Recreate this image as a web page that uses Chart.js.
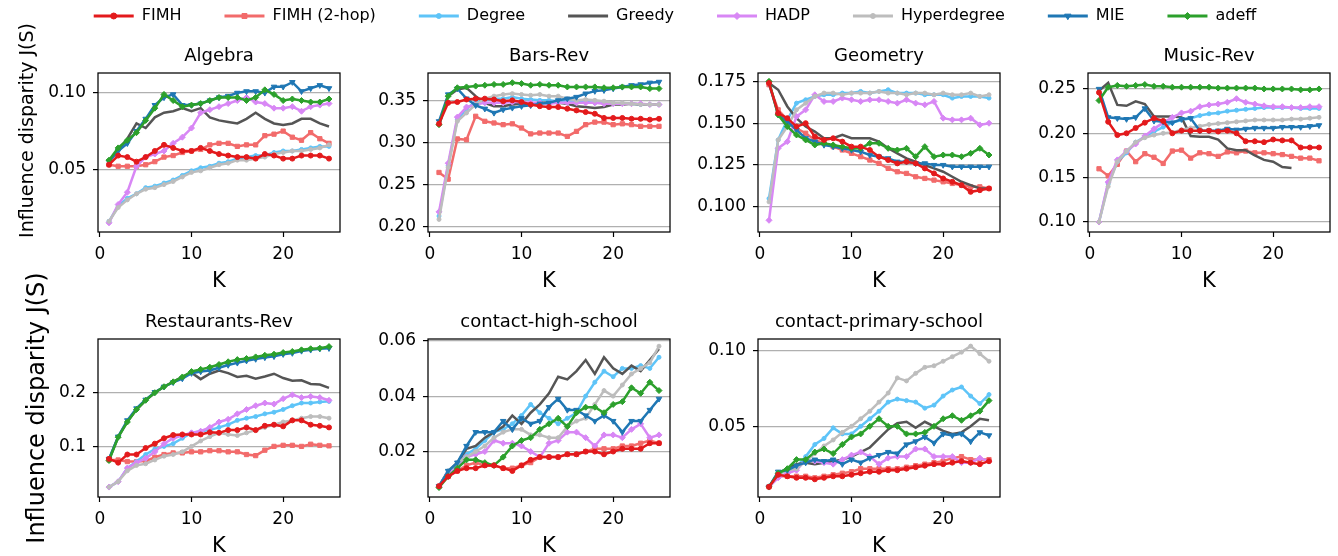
<!DOCTYPE html>
<html>
<head>
<meta charset="utf-8">
<script src="https://cdn.jsdelivr.net/npm/chart.js@4.4.1/dist/chart.umd.min.js"></script>
<style>
html, body { margin: 0; padding: 0; background: #fff; }
body { width: 1338px; height: 556px; position: relative; overflow: hidden; }
canvas { position: absolute; }
</style>
</head>
<body>
<canvas id="legend" width="1338" height="240"></canvas>
<script>
'use strict';

// ---- data ----
const K = [1,2,3,4,5,6,7,8,9,10,11,12,13,14,15,16,17,18,19,20,21,22,23,24,25];
const methods = ['FIMH', 'FIMH (2-hop)', 'Degree', 'Greedy', 'HADP', 'Hyperdegree', 'MIE', 'adeff'];
const titles = ['Algebra', 'Bars-Rev', 'Geometry', 'Music-Rev', 'Restaurants-Rev', 'contact-high-school', 'contact-primary-school'];
const xTicks = [0, 10, 20];
const yTickLabels = [
    ['0.05', '0.10'],
    ['0.20', '0.25', '0.30', '0.35'],
    ['0.100', '0.125', '0.150', '0.175'],
    ['0.10', '0.15', '0.20', '0.25'],
    ['0.1', '0.2'],
    ['0.02', '0.04', '0.06'],
    ['0.05', '0.10']
];
const yLimits = [
    [0.009, 0.113],
    [0.193, 0.3826],
    [0.085, 0.180],
    [0.0887, 0.268],
    [0.0067, 0.298],
    [0.0036, 0.0606],
    [0.0033, 0.1077]
];
const yLabel = 'Influence disparity J(S)';
const xLabel = 'K';

// series order follows `methods`
const algebra = [
    [0.053,0.059,0.058,0.055,0.058,0.062,0.066,0.064,0.062,0.062,0.064,0.062,0.060,0.059,0.058,0.058,0.057,0.060,0.059,0.057,0.057,0.059,0.059,0.059,0.057],
    [0.053,0.052,0.052,0.052,0.053,0.055,0.058,0.059,0.061,0.062,0.063,0.066,0.067,0.067,0.065,0.066,0.066,0.072,0.073,0.075,0.071,0.069,0.074,0.070,0.067],
    [0.016,0.026,0.031,0.034,0.038,0.039,0.041,0.043,0.046,0.049,0.051,0.052,0.054,0.055,0.057,0.058,0.059,0.059,0.061,0.062,0.062,0.063,0.064,0.065,0.065],
    [0.055,0.063,0.070,0.080,0.077,0.084,0.087,0.088,0.090,0.088,0.090,0.084,0.082,0.081,0.080,0.083,0.087,0.083,0.080,0.079,0.080,0.083,0.083,0.080,0.078],
    [0.015,0.027,0.035,0.052,0.058,0.060,0.062,0.067,0.071,0.077,0.087,0.089,0.091,0.093,0.095,0.097,0.094,0.093,0.090,0.090,0.091,0.088,0.091,0.092,0.093],
    [0.016,0.025,0.030,0.034,0.037,0.038,0.040,0.042,0.045,0.048,0.049,0.051,0.053,0.054,0.056,0.056,0.057,0.058,0.060,0.061,0.062,0.062,0.063,0.064,0.066],
    [0.055,0.062,0.067,0.075,0.083,0.092,0.097,0.099,0.092,0.092,0.093,0.095,0.097,0.098,0.100,0.101,0.101,0.100,0.104,0.104,0.107,0.101,0.103,0.105,0.103],
    [0.056,0.064,0.069,0.074,0.082,0.090,0.099,0.095,0.091,0.092,0.093,0.095,0.097,0.097,0.097,0.095,0.097,0.102,0.099,0.095,0.096,0.095,0.094,0.094,0.096]
];
const barsRev = [
    [0.322,0.347,0.348,0.351,0.352,0.352,0.351,0.349,0.350,0.348,0.345,0.343,0.342,0.342,0.340,0.338,0.336,0.334,0.329,0.329,0.329,0.328,0.328,0.327,0.328],
    [0.264,0.256,0.304,0.303,0.331,0.325,0.323,0.321,0.322,0.317,0.310,0.311,0.311,0.311,0.307,0.313,0.321,0.324,0.324,0.321,0.322,0.321,0.319,0.319,0.319],
    [0.212,0.272,0.327,0.340,0.348,0.350,0.352,0.352,0.354,0.352,0.351,0.350,0.350,0.349,0.349,0.348,0.348,0.347,0.347,0.346,0.346,0.346,0.345,0.345,0.345],
    [0.320,0.355,0.363,0.365,0.355,0.347,0.343,0.343,0.345,0.346,0.346,0.347,0.347,0.347,0.346,0.343,0.342,0.341,0.342,0.345,0.345,0.346,0.345,0.345,0.345],
    [0.217,0.275,0.330,0.342,0.345,0.347,0.347,0.347,0.348,0.348,0.347,0.347,0.346,0.347,0.347,0.347,0.347,0.347,0.346,0.346,0.346,0.346,0.346,0.345,0.345],
    [0.208,0.270,0.325,0.335,0.345,0.352,0.355,0.357,0.358,0.357,0.356,0.357,0.355,0.355,0.352,0.350,0.351,0.350,0.349,0.347,0.347,0.346,0.345,0.345,0.345],
    [0.325,0.357,0.364,0.352,0.344,0.340,0.335,0.339,0.341,0.343,0.344,0.346,0.347,0.350,0.352,0.354,0.358,0.361,0.362,0.364,0.366,0.368,0.369,0.371,0.372],
    [0.321,0.355,0.365,0.366,0.367,0.368,0.369,0.369,0.371,0.370,0.368,0.369,0.368,0.368,0.366,0.366,0.366,0.366,0.365,0.365,0.366,0.366,0.366,0.364,0.364]
];
const geometry = [
    [0.174,0.156,0.153,0.148,0.150,0.142,0.140,0.141,0.139,0.136,0.136,0.134,0.130,0.128,0.126,0.127,0.126,0.123,0.120,0.117,0.115,0.113,0.109,0.110,0.111],
    [0.173,0.158,0.152,0.147,0.144,0.140,0.138,0.136,0.134,0.132,0.130,0.128,0.126,0.123,0.121,0.120,0.118,0.117,0.116,0.115,0.114,0.113,0.112,0.112,0.111],
    [0.105,0.140,0.152,0.162,0.164,0.166,0.167,0.167,0.168,0.168,0.169,0.168,0.169,0.170,0.168,0.168,0.168,0.167,0.167,0.167,0.165,0.166,0.166,0.166,0.165],
    [0.174,0.170,0.160,0.153,0.148,0.145,0.141,0.141,0.143,0.141,0.141,0.141,0.139,0.135,0.132,0.129,0.127,0.125,0.123,0.121,0.118,0.115,0.113,0.111,0.111],
    [0.092,0.135,0.139,0.154,0.158,0.167,0.163,0.163,0.165,0.164,0.163,0.164,0.164,0.163,0.162,0.164,0.162,0.161,0.163,0.153,0.152,0.152,0.153,0.149,0.150],
    [0.103,0.140,0.148,0.158,0.162,0.166,0.168,0.168,0.167,0.168,0.168,0.168,0.169,0.168,0.168,0.167,0.168,0.168,0.167,0.168,0.167,0.167,0.168,0.166,0.167],
    [0.174,0.155,0.151,0.146,0.141,0.139,0.137,0.136,0.135,0.134,0.133,0.131,0.130,0.129,0.127,0.127,0.126,0.126,0.125,0.125,0.124,0.124,0.124,0.124,0.124],
    [0.175,0.155,0.148,0.143,0.140,0.137,0.138,0.137,0.136,0.135,0.135,0.138,0.138,0.135,0.134,0.135,0.130,0.136,0.130,0.131,0.131,0.130,0.132,0.135,0.131]
];
const musicRev = [
    [0.246,0.213,0.198,0.200,0.206,0.212,0.217,0.214,0.200,0.203,0.203,0.203,0.203,0.202,0.203,0.200,0.191,0.191,0.190,0.193,0.192,0.192,0.184,0.184,0.184],
    [0.160,0.152,0.165,0.180,0.168,0.177,0.173,0.166,0.180,0.181,0.172,0.178,0.177,0.174,0.179,0.178,0.180,0.178,0.178,0.177,0.176,0.174,0.172,0.172,0.169],
    [0.100,0.143,0.168,0.178,0.190,0.196,0.202,0.207,0.212,0.215,0.217,0.220,0.222,0.223,0.225,0.226,0.227,0.228,0.229,0.229,0.229,0.229,0.228,0.228,0.228],
    [0.248,0.257,0.232,0.231,0.236,0.233,0.219,0.219,0.219,0.218,0.197,0.196,0.196,0.193,0.183,0.181,0.181,0.175,0.170,0.168,0.162,0.161,null,null,null],
    [0.100,0.145,0.170,0.180,0.188,0.197,0.205,0.212,0.218,0.223,0.225,0.230,0.232,0.233,0.235,0.239,0.235,0.233,0.231,0.230,0.230,0.229,0.229,0.230,0.230],
    [0.100,0.140,0.168,0.180,0.190,0.195,0.198,0.200,0.201,0.204,0.206,0.208,0.210,0.211,0.212,0.213,0.214,0.215,0.215,0.215,0.215,0.216,0.216,0.217,0.218],
    [0.250,0.218,0.217,0.216,0.218,0.228,0.214,0.213,0.212,0.216,0.217,0.203,0.203,0.203,0.205,0.204,0.205,0.206,0.206,0.206,0.207,0.207,0.207,0.208,0.209],
    [0.237,0.252,0.254,0.253,0.254,0.255,0.253,0.253,0.252,0.252,0.252,0.252,0.252,0.251,0.251,0.251,0.251,0.251,0.250,0.250,0.250,0.250,0.249,0.249,0.250]
];
const restaurantsRev = [
    [0.077,0.070,0.085,0.085,0.097,0.105,0.115,0.121,0.122,0.122,0.122,0.126,0.125,0.130,0.130,0.135,0.130,0.138,0.140,0.137,0.148,0.148,0.140,0.138,0.135],
    [0.075,0.075,0.072,0.072,0.073,0.080,0.085,0.088,0.088,0.090,0.090,0.092,0.092,0.090,0.090,0.085,0.083,0.093,0.100,0.102,0.102,0.100,0.104,0.102,0.101],
    [0.025,0.035,0.060,0.072,0.085,0.095,0.100,0.105,0.115,0.125,0.128,0.130,0.135,0.140,0.148,0.152,0.155,0.160,0.163,0.168,0.175,0.180,0.180,0.182,0.183],
    [0.076,0.117,0.146,0.168,0.185,0.199,0.210,0.219,0.228,0.236,0.224,0.234,0.240,0.235,0.228,0.230,0.225,0.229,0.234,0.226,0.221,0.222,0.215,0.214,0.208],
    [0.025,0.035,0.060,0.070,0.078,0.090,0.105,0.115,0.120,0.125,0.128,0.135,0.145,0.150,0.160,0.168,0.175,0.180,0.178,0.188,0.195,0.190,0.192,0.190,0.185],
    [0.025,0.035,0.055,0.065,0.068,0.075,0.082,0.085,0.090,0.100,0.110,0.118,0.125,0.122,0.120,0.125,0.130,0.135,0.140,0.145,0.148,0.152,0.155,0.155,0.152],
    [0.077,0.118,0.148,0.170,0.186,0.200,0.210,0.218,0.225,0.235,0.238,0.240,0.245,0.250,0.254,0.258,0.261,0.264,0.266,0.270,0.272,0.276,0.278,0.280,0.281],
    [0.074,0.117,0.145,0.168,0.185,0.199,0.210,0.219,0.228,0.238,0.242,0.246,0.251,0.256,0.260,0.262,0.265,0.268,0.270,0.273,0.275,0.278,0.280,0.281,0.284]
];
const highSchool = [
    [0.0075,0.011,0.013,0.014,0.014,0.015,0.015,0.014,0.013,0.015,0.017,0.018,0.018,0.018,0.019,0.019,0.020,0.020,0.019,0.020,0.021,0.021,0.021,0.023,0.023],
    [0.0075,0.011,0.013,0.015,0.016,0.015,0.015,0.014,0.014,0.015,0.016,0.018,0.018,0.018,0.019,0.019,0.020,0.021,0.021,0.021,0.022,0.022,0.023,0.024,0.023],
    [0.0075,0.013,0.015,0.019,0.021,0.024,0.027,0.028,0.030,0.033,0.037,0.034,0.032,0.030,0.032,0.034,0.040,0.045,0.049,0.047,0.050,0.050,0.051,0.050,0.054],
    [0.0075,0.013,0.016,0.021,0.022,0.025,0.027,0.029,0.033,0.030,0.034,0.037,0.041,0.047,0.046,0.049,0.053,0.048,0.054,0.050,0.048,0.051,0.049,0.053,0.057],
    [0.0075,0.012,0.014,0.018,0.019,0.020,0.024,0.023,0.023,0.022,0.020,0.018,0.023,0.024,0.027,0.027,0.025,0.022,0.026,0.026,0.025,0.028,0.030,0.025,0.026],
    [0.0075,0.013,0.016,0.018,0.020,0.022,0.025,0.027,0.028,0.028,0.026,0.026,0.025,0.025,0.029,0.031,0.032,0.037,0.042,0.040,0.044,0.048,0.050,0.052,0.058],
    [0.0075,0.013,0.016,0.022,0.027,0.027,0.027,0.031,0.028,0.032,0.030,0.031,0.036,0.039,0.035,0.035,0.033,0.031,0.033,0.031,0.027,0.031,0.031,0.035,0.039],
    [0.007,0.011,0.014,0.017,0.017,0.016,0.015,0.018,0.022,0.024,0.025,0.028,0.030,0.032,0.029,0.034,0.036,0.036,0.034,0.037,0.038,0.043,0.041,0.045,0.042]
];
const primarySchool = [
    [0.010,0.018,0.017,0.016,0.016,0.015,0.016,0.017,0.017,0.018,0.019,0.020,0.020,0.021,0.021,0.022,0.023,0.024,0.025,0.025,0.026,0.027,0.026,0.025,0.027],
    [0.010,0.017,0.017,0.017,0.017,0.016,0.017,0.018,0.019,0.020,0.022,0.022,0.022,0.022,0.022,0.023,0.024,0.025,0.026,0.027,0.029,0.030,0.028,0.028,0.028],
    [0.010,0.019,0.021,0.023,0.030,0.038,0.042,0.049,0.045,0.045,0.050,0.055,0.060,0.066,0.068,0.067,0.066,0.062,0.064,0.070,0.074,0.076,0.070,0.065,0.071],
    [0.010,0.019,0.022,0.025,0.026,0.025,0.026,0.027,0.028,0.030,0.033,0.036,0.042,0.048,0.052,0.053,0.049,0.053,0.050,0.047,0.045,0.046,0.050,0.055,0.054],
    [0.010,0.016,0.019,0.021,0.028,0.027,0.026,0.025,0.028,0.031,0.033,0.030,0.025,0.029,0.030,0.030,0.035,0.035,0.030,0.030,0.030,0.026,0.026,0.029,0.027],
    [0.010,0.018,0.021,0.022,0.027,0.032,0.037,0.041,0.046,0.050,0.055,0.060,0.066,0.072,0.082,0.080,0.085,0.089,0.090,0.093,0.096,0.099,0.103,0.098,0.093],
    [0.010,0.020,0.021,0.024,0.026,0.028,0.027,0.028,0.025,0.028,0.026,0.029,0.031,0.033,0.032,0.038,0.040,0.043,0.039,0.045,0.044,0.045,0.040,0.046,0.044],
    [0.010,0.019,0.022,0.028,0.028,0.033,0.035,0.032,0.038,0.043,0.045,0.050,0.055,0.050,0.050,0.045,0.045,0.046,0.050,0.055,0.057,0.054,0.057,0.060,0.067]
];
const panelData = [algebra, barsRev, geometry, musicRev, restaurantsRev, highSchool, primarySchool];

(function(){
    const FONT = '"DejaVu Sans", sans-serif';

    // line/marker look per method
    const look = [
        { color: '#e31a1c', point: 'circle',   r: 2.5, rot: 0,   z: 0 },
        { color: '#f26b6b', point: 'rect',     r: 3,   rot: 0,   z: 7 },
        { color: '#5ec4f8', point: 'circle',   r: 2,   rot: 0,   z: 6 },
        { color: '#555555', point: 'circle',   r: 0,   rot: 0,   z: 5 },
        { color: '#d887f5', point: 'rectRot',  r: 3,   rot: 0,   z: 4 },
        { color: '#bdbdbd', point: 'circle',   r: 2,   rot: 0,   z: 3 },
        { color: '#1f77b4', point: 'triangle', r: 3.2, rot: 180, z: 2 },
        { color: '#2ca02c', point: 'rectRot',  r: 3,   rot: 0,   z: 1 }
    ];

    // panel geometry (plot box in page pixels)
    const colLeft = [98, 428, 758, 1088];
    const rowTop = [73, 339];
    const boxW = 242;
    const boxH = [159, 158];
    const titleH = 30, xAxisH = 62, padRight = 8;
    // first column canvases start higher so the long y label fits
    const firstColTop = [0, 260];
    // y-label placement for the first column: x centre, shift from plot centre, size
    const yLabelPos = [{ x: 28, dy: -22, size: 19 }, { x: 38, dy: -10, size: 24 }];

    const frame = {
        id: 'frame',
        afterDraw(chart) {
            const { ctx, chartArea: a } = chart;
            if (!a) return;
            ctx.save();
            ctx.strokeStyle = '#000';
            ctx.lineWidth = 1.25;
            ctx.strokeRect(a.left, a.top, a.right - a.left, a.bottom - a.top);
            ctx.restore();
        }
    };

    const rowLabel = {
        id: 'rowLabel',
        afterDraw(chart, args, opts) {
            if (!opts || !opts.text) return;
            const { ctx, chartArea: a } = chart;
            ctx.save();
            ctx.translate(opts.x, (a.top + a.bottom) / 2 + opts.dy);
            ctx.rotate(-Math.PI / 2);
            ctx.font = opts.size + 'px ' + FONT;
            ctx.fillStyle = '#000';
            ctx.textAlign = 'center';
            ctx.textBaseline = 'middle';
            ctx.fillText(opts.text, 0, 0);
            ctx.restore();
        }
    };

    panelData.forEach((series, i) => {
        const col = i % 4, row = Math.floor(i / 4);
        const yW = col === 0 ? colLeft[0] : 70;
        const extraTop = col === 0 ? rowTop[row] - titleH - firstColTop[row] : 0;
        const w = yW + boxW + padRight;
        const h = extraTop + titleH + boxH[row] + xAxisH;

        const cv = document.createElement('canvas');
        cv.width = w; cv.height = h;
        cv.style.left = (colLeft[col] - yW) + 'px';
        cv.style.top = (rowTop[row] - titleH - extraTop) + 'px';
        cv.style.width = w + 'px'; cv.style.height = h + 'px';
        document.body.appendChild(cv);

        const tickLbl = yTickLabels[i];
        const tickVal = tickLbl.map(parseFloat);

        new Chart(cv, {
            type: 'line',
            data: {
                labels: K,
                datasets: series.map((vals, s) => ({
                    label: methods[s],
                    data: vals,
                    order: look[s].z,
                    borderColor: look[s].color,
                    backgroundColor: look[s].color,
                    borderWidth: 2.5,
                    pointStyle: look[s].point,
                    pointRadius: look[s].r,
                    pointRotation: look[s].rot,
                    pointBorderWidth: 1,
                    pointBackgroundColor: look[s].color,
                    pointBorderColor: look[s].color,
                    tension: 0,
                    spanGaps: false
                }))
            },
            options: {
                responsive: false,
                animation: false,
                events: [],
                layout: { padding: { left: 0, right: padRight, top: 0, bottom: 0 } },
                plugins: {
                    legend: { display: false },
                    tooltip: { enabled: false },
                    title: {
                        display: true,
                        fullSize: false,
                        text: titles[i],
                        color: '#000',
                        font: { family: FONT, size: 18, weight: 'normal', lineHeight: 1.2 },
                        padding: { top: 3 + extraTop, bottom: 5.4 }
                    },
                    rowLabel: col === 0 ? Object.assign({ text: yLabel }, yLabelPos[row]) : {}
                },
                scales: {
                    x: {
                        type: 'linear',
                        min: -0.2, max: 26.2,
                        bounds: 'data',
                        afterBuildTicks: s => { s.ticks = xTicks.map(v => ({ value: v })); },
                        afterFit: s => { s.height = xAxisH; },
                        ticks: {
                            autoSkip: false, maxRotation: 0, padding: 7,
                            color: '#000',
                            font: { family: FONT, size: 17 },
                            callback: v => String(v)
                        },
                        grid: { drawOnChartArea: false, drawTicks: true, tickLength: 5, tickColor: '#000', tickWidth: 1.2 },
                        border: { display: false },
                        title: {
                            display: true, text: xLabel, color: '#000',
                            font: { family: FONT, size: 21, lineHeight: 1.2 },
                            padding: { top: 0, bottom: 0 }
                        }
                    },
                    y: {
                        type: 'linear',
                        min: yLimits[i][0], max: yLimits[i][1],
                        bounds: 'data',
                        afterBuildTicks: s => { s.ticks = tickVal.map(v => ({ value: v })); },
                        afterFit: s => { s.width = yW; },
                        ticks: {
                            autoSkip: false, padding: 7,
                            color: '#000',
                            font: { family: FONT, size: 17 },
                            callback: v => { const k = tickVal.indexOf(v); return k >= 0 ? tickLbl[k] : ''; }
                        },
                        grid: { color: '#b0b0b0', lineWidth: 1.2, drawTicks: true, tickLength: 5, tickColor: '#000', tickWidth: 1.2 },
                        border: { display: false }
                    }
                }
            },
            plugins: col === 0 ? [frame, rowLabel] : [frame]
        });
    });

    // ---- shared legend along the top ----
    const legendMarks = {
        id: 'legendMarks',
        afterDraw(chart) {
            const ctx = chart.ctx;
            const boxes = chart.legend.legendHitBoxes || [];
            boxes.forEach((b, i) => {
                const st = look[i];
                if (!st.r) return;
                ctx.save();
                ctx.fillStyle = st.color;
                ctx.strokeStyle = st.color;
                ctx.lineWidth = 1;
                Chart.helpers.drawPoint(ctx, { pointStyle: st.point, radius: st.r + 0.5, rotation: st.rot, borderWidth: 1 },
                    b.left + 20, b.top + b.height / 2);
                ctx.restore();
            });
        }
    };

    const lg = document.getElementById('legend');
    lg.style.left = '6px';
    lg.style.top = '-35px';
    new Chart(lg, {
        type: 'line',
        data: {
            labels: [],
            datasets: methods.map((m, s) => ({ label: m, data: [], borderColor: look[s].color, backgroundColor: look[s].color }))
        },
        options: {
            responsive: false,
            animation: false,
            events: [],
            scales: { x: { display: false }, y: { display: false } },
            plugins: {
                tooltip: { enabled: false },
                legend: {
                    display: true,
                    position: 'top',
                    labels: {
                        boxWidth: 40,
                        boxHeight: 3,
                        padding: 43,
                        color: '#000',
                        font: { family: FONT, size: 16 },
                        generateLabels: chart => chart.data.datasets.map((d, s) => ({
                            text: d.label,
                            fillStyle: look[s].color,
                            strokeStyle: look[s].color,
                            lineWidth: 0,
                            hidden: false,
                            datasetIndex: s
                        }))
                    }
                }
            }
        },
        plugins: [legendMarks]
    });
})();
</script>
</body>
</html>
